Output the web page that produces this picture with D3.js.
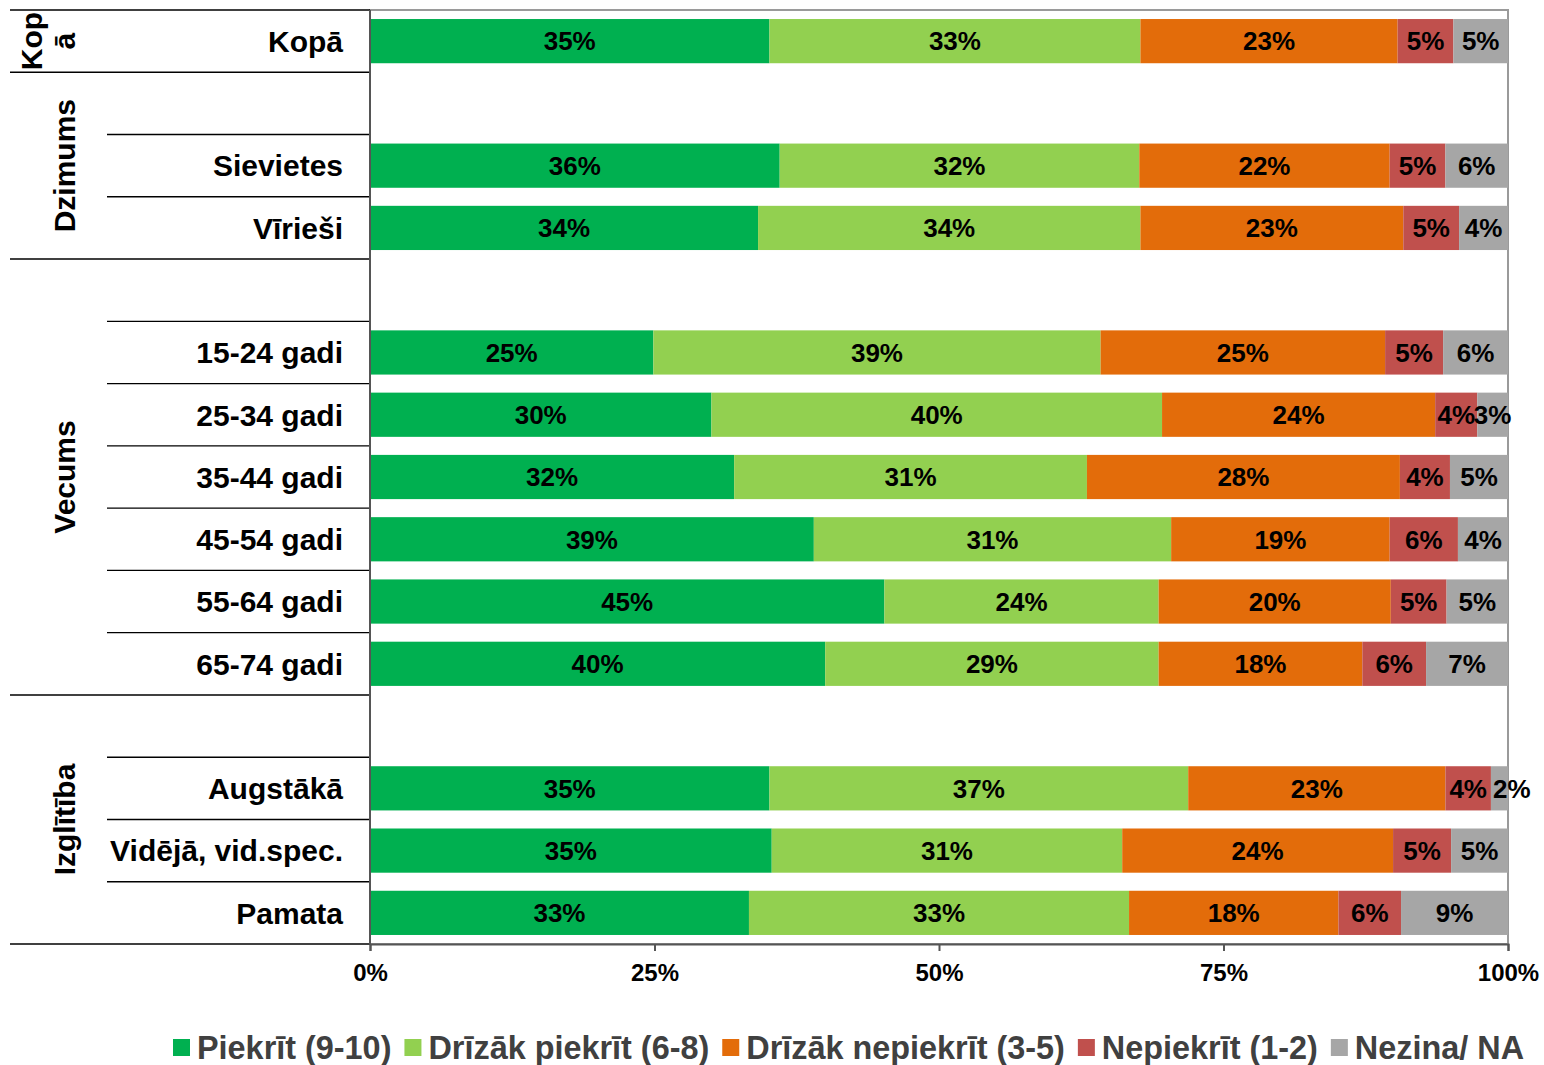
<!DOCTYPE html>
<html>
<head>
<meta charset="utf-8">
<script src="https://cdn.jsdelivr.net/npm/d3@7"></script>
<style>
  html, body { margin: 0; padding: 0; background: #fff; }
  svg { display: block; font-family: "Liberation Sans", Arial, sans-serif; }
</style>
</head>
<body>
<svg id="chart" width="1544" height="1065"></svg>
<script>
// ---- data ----
const categories = ["Kopā", "", "Sievietes", "Vīrieši", "", "15-24 gadi", "25-34 gadi", "35-44 gadi",
  "45-54 gadi", "55-64 gadi", "65-74 gadi", "", "Augstākā", "Vidējā, vid.spec.", "Pamata"];
const seriesNames = ["Piekrīt (9-10)", "Drīzāk piekrīt (6-8)", "Drīzāk nepiekrīt (3-5)", "Nepiekrīt (1-2)", "Nezina/ NA"];
const seriesColors = ["#00B050", "#92D050", "#E36C0A", "#C0504D", "#A6A6A6"];
const piekrit        = [35.1, null, 36.0, 34.1, null, 24.9, 30.0, 32.0, 39.0, 45.2, 40.0, null, 35.1, 35.3, 33.3];
const drizakPiekrit  = [32.6, null, 31.6, 33.6, null, 39.3, 39.6, 31.0, 31.4, 24.1, 29.3, null, 36.8, 30.8, 33.4];
const drizakNepiekr  = [22.6, null, 22.0, 23.1, null, 25.0, 24.0, 27.5, 19.2, 20.4, 17.9, null, 22.6, 23.8, 18.4];
const nepiekrit      = [4.9,  null, 4.9,  4.9,  null, 5.1,  3.7,  4.4,  6.0,  4.9,  5.6,  null, 4.0,  5.1,  5.5];
const nezina         = [4.8,  null, 5.5,  4.3,  null, 5.7,  2.7,  5.1,  4.4,  5.4,  7.2,  null, 1.5,  5.0,  9.4];
const groupNames  = [["Kop", "ā"], ["Dzimums"], ["Vecums"], ["Izglītība"]];
const groupStart  = [0, 1, 4, 11];
const groupEnd    = [0, 3, 10, 14];
const xTicks = [0, 25, 50, 75, 100];

// ---- layout ----
const svg = d3.select("#chart");
const pL = 370, pR = 1508, pT = 10, pB = 944;

const x = d3.scaleLinear().domain([0, 100]).range([pL, pR]);
const y = d3.scaleBand().domain(d3.range(categories.length)).range([pT, pB])
  .paddingInner(0.29).paddingOuter(0.145);
const step = y.step();
const rowTop = i => pT + i * step;

const seriesValues = [piekrit, drizakPiekrit, drizakNepiekr, nepiekrit, nezina];
const rows = categories.map((c, i) => {
  const o = { idx: i };
  seriesValues.forEach((s, k) => o["s" + k] = s[i] == null ? 0 : s[i]);
  o.blank = piekrit[i] == null;
  return o;
});
const keys = seriesValues.map((s, k) => "s" + k);
const stacked = d3.stack().keys(keys)(rows);

// plot frame (top/right grey)
svg.append("rect").attr("x", pL).attr("y", pT).attr("width", pR - pL).attr("height", pB - pT)
  .attr("fill", "none").attr("stroke", "#9a9a9a").attr("stroke-width", 2);

// bars
const layers = svg.append("g").selectAll("g").data(stacked).join("g")
  .attr("fill", (d, k) => seriesColors[k]);
layers.selectAll("rect").data(d => d.filter(p => !p.data.blank)).join("rect")
  .attr("x", p => x(p[0]))
  .attr("y", p => y(p.data.idx))
  .attr("width", p => x(p[1]) - x(p[0]))
  .attr("height", y.bandwidth());

// data labels (centered; nudged right if clearly colliding with the previous label in the row)
const labG = svg.append("g").attr("font-size", 26).attr("font-weight", "bold").attr("fill", "#000")
  .attr("text-anchor", "middle");
rows.filter(r => !r.blank).forEach(r => {
  let prevRight = -Infinity;
  stacked.forEach((layer, k) => {
    const p = layer[r.idx];
    const v = seriesValues[k][r.idx];
    let cx = (x(p[0]) + x(p[1])) / 2;
    const t = labG.append("text")
      .attr("x", cx)
      .attr("y", y(r.idx) + y.bandwidth() / 2)
      .attr("dy", "0.36em")
      .text(Math.round(v) + "%");
    const w = t.node().getComputedTextLength();
    if (cx - w / 2 < prevRight - 2) { cx = prevRight + 6 + w / 2; t.attr("x", cx); }
    prevRight = cx + w / 2;
  });
});

// left-side table lines
const lineG = svg.append("g").attr("stroke", "#000").attr("stroke-width", 1.4);
const groupBounds = new Set();
groupStart.forEach(s => groupBounds.add(s));
groupEnd.forEach(e => groupBounds.add(e + 1));
for (let b = 0; b <= categories.length; b++) {
  const yy = rowTop(b);
  lineG.append("line").attr("x1", groupBounds.has(b) ? 10 : 107).attr("x2", pL)
    .attr("y1", yy).attr("y2", yy);
}

// y axis line
svg.append("line").attr("x1", pL).attr("x2", pL).attr("y1", pT).attr("y2", pB)
  .attr("stroke", "#555").attr("stroke-width", 2);

// x axis
const xAxis = svg.append("g").attr("transform", `translate(0,${pB})`)
  .call(d3.axisBottom(x).tickValues(xTicks).tickSize(7).tickFormat(d => d + "%"));
xAxis.select(".domain").attr("stroke", "#555").attr("stroke-width", 2);
xAxis.selectAll(".tick line").attr("stroke", "#555").attr("stroke-width", 2);
xAxis.selectAll(".tick text").attr("font-size", 24).attr("font-weight", "bold").attr("fill", "#000")
  .attr("font-family", "Liberation Sans, Arial, sans-serif").attr("dy", "0").attr("y", 37);

// category labels
svg.append("g").attr("font-size", 30).attr("font-weight", "bold").attr("text-anchor", "end").attr("fill", "#000")
  .selectAll("text").data(rows.filter(r => categories[r.idx] !== "")).join("text")
  .attr("x", 343)
  .attr("y", r => y(r.idx) + y.bandwidth() / 2)
  .attr("dy", "0.36em")
  .text(r => categories[r.idx]);

// group labels (rotated)
const gg = svg.append("g").attr("font-size", 30).attr("font-weight", "bold").attr("fill", "#000")
  .attr("text-anchor", "middle");
groupNames.forEach((lines, g) => {
  const cy = (rowTop(groupStart[g]) + rowTop(groupEnd[g] + 1)) / 2;
  const n = lines.length;
  lines.forEach((ln, i) => {
    const bx = 75 - 33 * (n - 1 - i);
    gg.append("text").attr("transform", `translate(${bx},${cy}) rotate(-90)`).text(ln);
  });
});

// legend
const leg = svg.append("g").attr("font-size", 32.4).attr("font-weight", "bold").attr("fill", "#404040");
let lx = 173;
seriesNames.forEach((name, k) => {
  leg.append("rect").attr("x", lx).attr("y", 1039).attr("width", 17).attr("height", 17).attr("fill", seriesColors[k]);
  const t = leg.append("text").attr("x", lx + 24).attr("y", 1059).text(name);
  lx = lx + 24 + t.node().getComputedTextLength() + 13;
});
</script>
</body>
</html>
